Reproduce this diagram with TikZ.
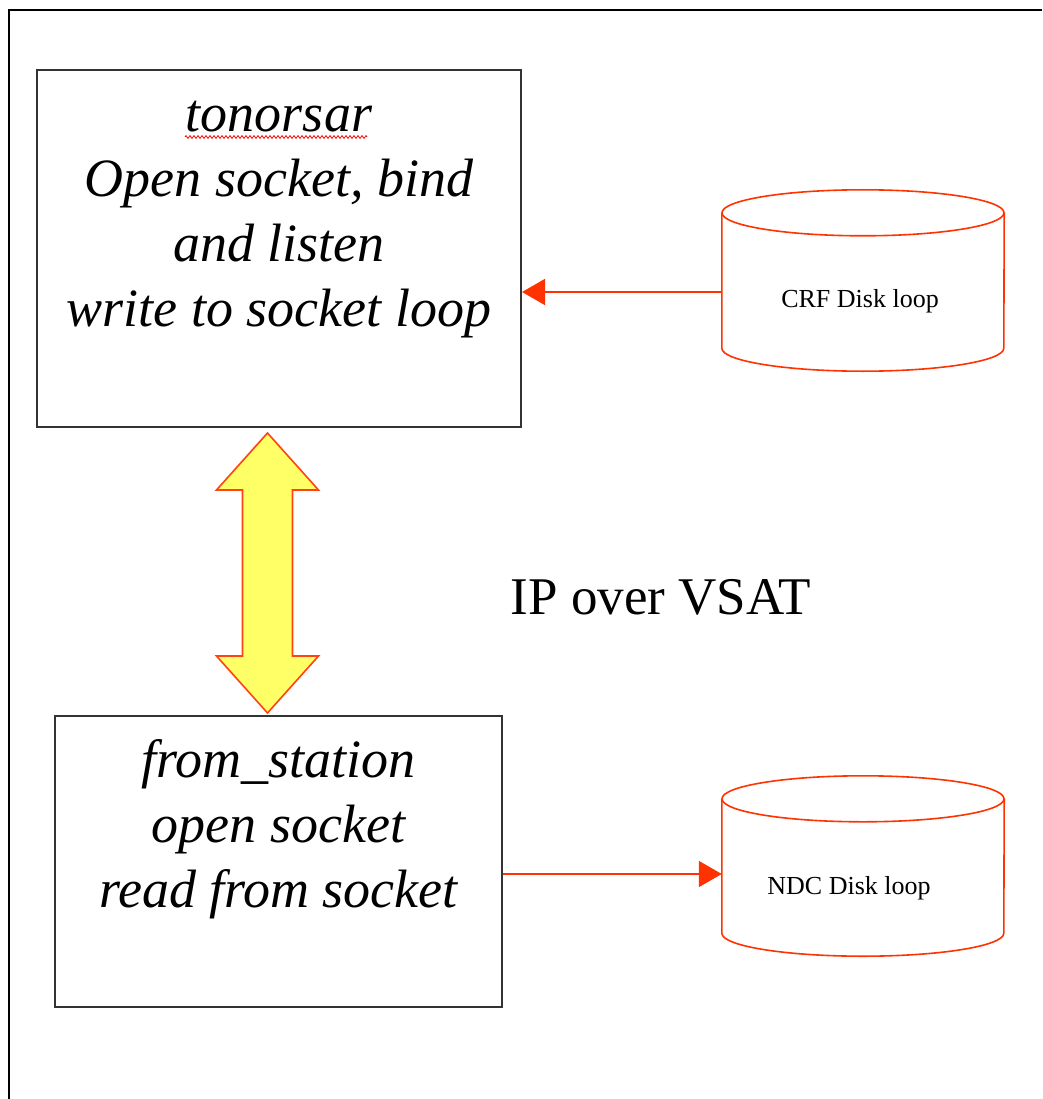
\documentclass[tikz,border=0pt]{standalone}
\usepackage{fontspec}
\setmainfont{Liberation Serif}
\usetikzlibrary{arrows.meta,calc,decorations.pathmorphing}
\definecolor{diskred}{HTML}{FF3300}
\definecolor{linkfill}{HTML}{FFFF66}
\definecolor{linkedge}{HTML}{FF4411}
\begin{document}
\begin{tikzpicture}[x=1pt,y=-1pt,>={Triangle[length=23pt,width=26pt]},
        procbox/.style={draw=black!80,line width=2pt,inner sep=0pt},
        proctext/.style={align=center,inner sep=0pt,font=\itshape\fontsize{54}{65}\selectfont},
        disk/.style={inner sep=0pt,minimum width=282pt,minimum height=135pt},
        diskline/.style={draw=diskred,line width=1.6pt},
        disktext/.style={inner sep=0pt,font=\fontsize{26}{30}\selectfont},
        feed/.style={->,draw=diskred,fill=diskred,line width=1.6pt},
        link/.style={draw=linkedge,fill=linkfill,line width=1.6pt,line join=miter},
        spell/.style={draw=red,line width=0.8pt,decorate,decoration={zigzag,segment length=4pt,amplitude=1.4pt}}]
            \def\headw{51}
            \def\shaftw{25}
            \def\headl{57}

            \useasboundingbox (0,0) rectangle (1042,1099);
            \fill[white] (0,0) rectangle (1042,1099);
            \draw[line width=2.5pt] (9,1099) -- (9,10) -- (1042,10);

            % the two programs
            \node[procbox,minimum width=484pt,minimum height=357pt] (tonor) at (279,248.5) {};
            \node[proctext] (tonortext) at (279,220) {tonorsar\\Open socket, bind\\and listen\\write to socket loop};
            \draw[spell] ([xshift=-94pt,yshift=-68pt]tonor.north) -- ([xshift=88pt,yshift=-68pt]tonor.north);

            \node[procbox,minimum width=447pt,minimum height=291pt] (from) at (278.5,861.5) {};
            \node[proctext] (fromtext) at (278.5,829) {from\_station\\open socket\\read from socket};

            % disk loops
            \node[disk] (crf) at (863,280.5) {};
            \draw[diskline] (crf.north west) -- (crf.south west) arc[start angle=180,end angle=360,x radius=141pt,y radius=23pt] -- (crf.north east);
            \draw[diskline] (crf.north) ellipse[x radius=141pt,y radius=23pt];
            \node[disktext] (crftext) at ([xshift=-3pt,yshift=-21pt]crf.center) {CRF Disk loop};

            \node[disk,minimum height=134pt] (ndc) at (863,866) {};
            \draw[diskline] (ndc.north west) -- (ndc.south west) arc[start angle=180,end angle=360,x radius=141pt,y radius=23pt] -- (ndc.north east);
            \draw[diskline] (ndc.north) ellipse[x radius=141pt,y radius=23pt];
            \node[disktext] (ndctext) at ([xshift=-14pt,yshift=-22pt]ndc.center) {NDC Disk loop};

            \coordinate (crfout) at ([yshift=-11.5pt]crf.west);
            \draw[feed] (crfout) -- (crfout -| tonor.east);
            \coordinate (ndcin) at ([yshift=-8pt]ndc.west);
            \draw[feed] (ndcin -| from.east) -- (ndcin);

            % the VSAT link
            \coordinate (linktop) at ([xshift=-11.5pt,yshift=-5pt]tonor.south);
            \coordinate (linkbot) at ([xshift=-11pt,yshift=2pt]from.north);
            \draw[link] (linktop) -- ++(\headw,\headl) -- ++(-\headw+\shaftw,0) -- ($(linkbot)+(\shaftw,-\headl)$)
                -- ++(\headw-\shaftw,0) -- (linkbot) -- ++(-\headw,-\headl) -- ++(\headw-\shaftw,0)
                -- ($(linktop)+(-\shaftw,\headl)$) -- ++(-\headw+\shaftw,0) -- cycle;
            \node[font=\fontsize{53}{60}\selectfont] (ipvsat) at (661,597) {IP over VSAT};

        \end{tikzpicture}
\end{document}
